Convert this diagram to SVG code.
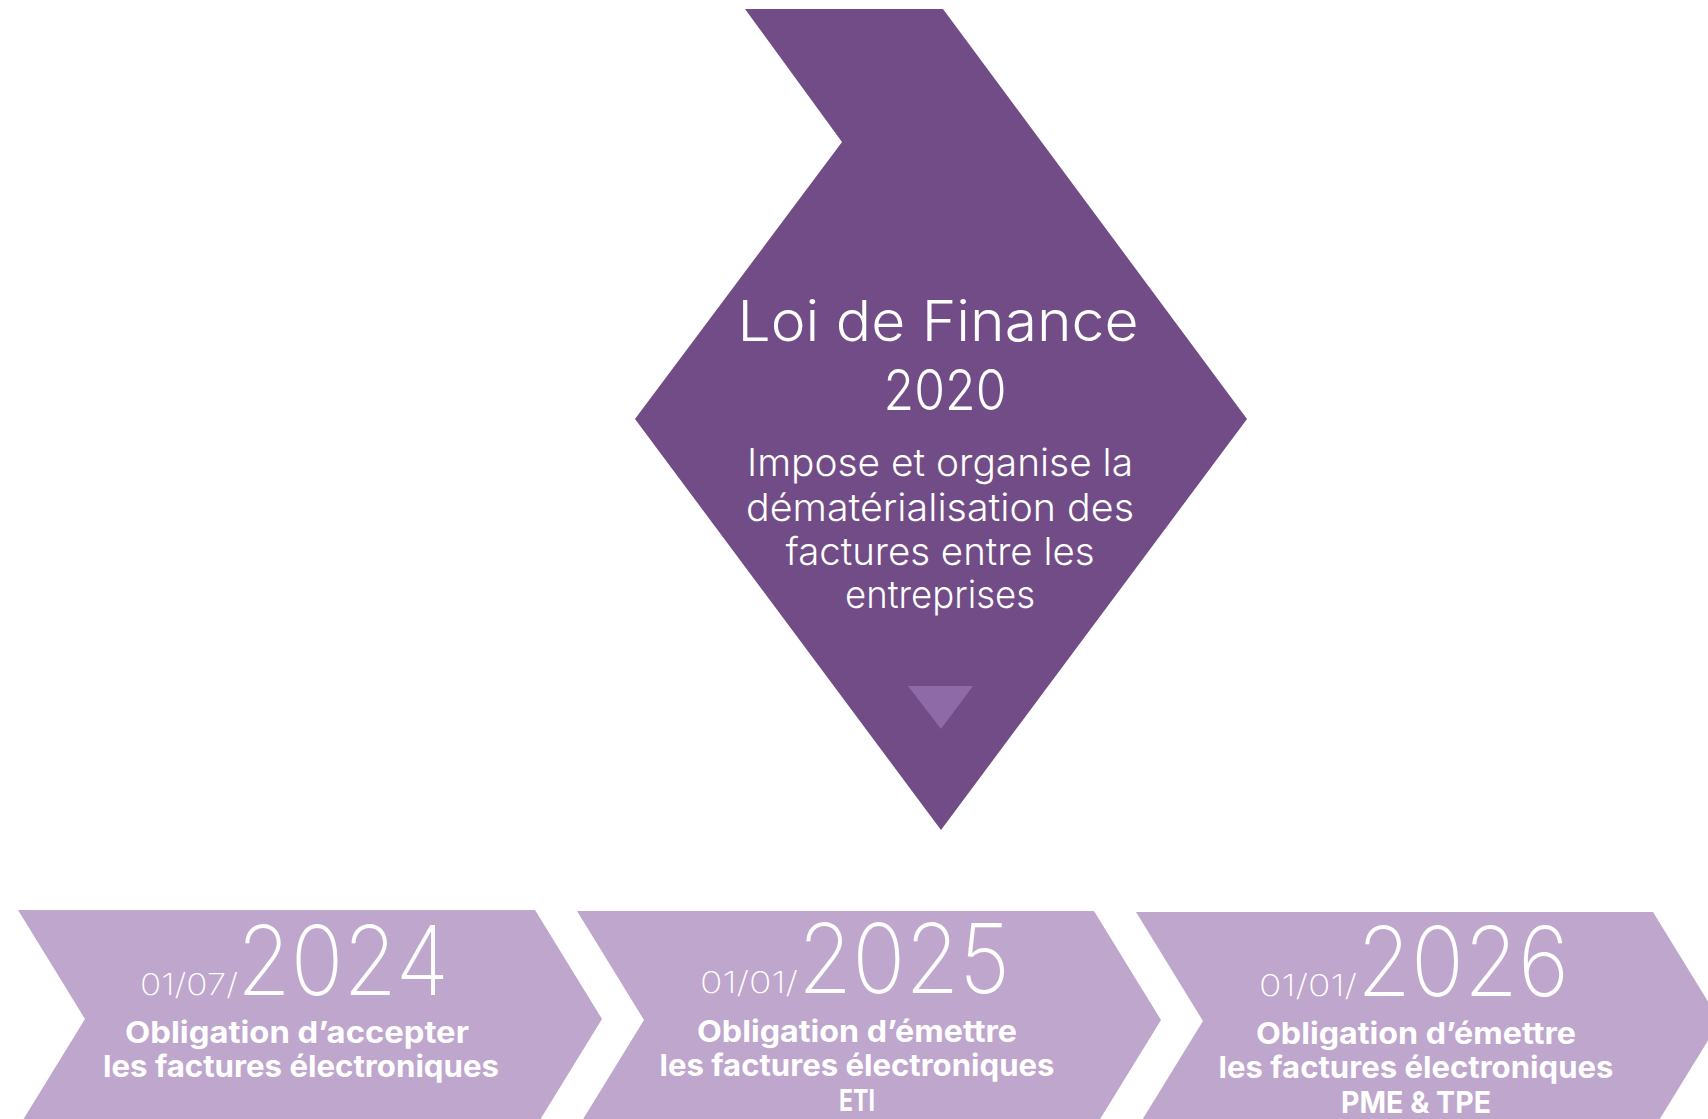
<svg xmlns="http://www.w3.org/2000/svg" width="1708" height="1119" viewBox="0 0 1708 1119">
<style>
.main{fill:#714C86}
.chev{fill:#BFA6CC}
.t{fill:#FFFFFF;font-family:Inter,"Liberation Sans",sans-serif}
.thin{font-weight:300}
.xthin{font-weight:250}
.bold{font-weight:700;text-anchor:middle}
.mid{text-anchor:middle}
</style>
<rect width="1708" height="1119" fill="#FFFFFF"/>
<g id="loi">
<polygon class="main" points="745,9 943,9 1247,419 941,830 635,419 842,142"/>
<polygon fill="#8E6AA6" points="908,686 973,686 941,729"/>
<text class="t thin mid" x="938" y="341" font-size="56" textLength="401" lengthAdjust="spacingAndGlyphs">Loi de Finance</text>
<text class="t thin mid" x="945" y="410" font-size="56" textLength="123" lengthAdjust="spacingAndGlyphs">2020</text>
<text class="t thin mid" x="940" y="476" font-size="38" textLength="386" lengthAdjust="spacingAndGlyphs">Impose et organise la</text>
<text class="t thin mid" x="940" y="521" font-size="38" textLength="388" lengthAdjust="spacingAndGlyphs">dématérialisation des</text>
<text class="t thin mid" x="940" y="565" font-size="38" textLength="309" lengthAdjust="spacingAndGlyphs">factures entre les</text>
<text class="t thin mid" x="940" y="608" font-size="38" textLength="190" lengthAdjust="spacingAndGlyphs">entreprises</text>
</g>
<g id="c2024">
<polygon class="chev" points="18,910 535,910 602,1019 535,1128 18,1128 85,1019"/>
<text class="t xthin" y="995"><tspan x="140" font-size="30" textLength="98" lengthAdjust="spacingAndGlyphs">01/07/</tspan><tspan x="237" font-size="96" textLength="212" lengthAdjust="spacingAndGlyphs">2024</tspan></text>
<text class="t bold" x="297" y="1043" font-size="30" textLength="344" lengthAdjust="spacingAndGlyphs">Obligation d’accepter</text>
<text class="t bold" x="301" y="1077" font-size="30" textLength="396" lengthAdjust="spacingAndGlyphs">les factures électroniques</text>
</g>
<g id="c2025">
<polygon class="chev" points="577,911 1094,911 1161,1020 1094,1129 577,1129 644,1020"/>
<text class="t xthin" y="993"><tspan x="700" font-size="30" textLength="98" lengthAdjust="spacingAndGlyphs">01/01/</tspan><tspan x="798" font-size="96" textLength="212" lengthAdjust="spacingAndGlyphs">2025</tspan></text>
<text class="t bold" x="857" y="1042" font-size="30" textLength="320" lengthAdjust="spacingAndGlyphs">Obligation d’émettre</text>
<text class="t bold" x="857" y="1076" font-size="30" textLength="395" lengthAdjust="spacingAndGlyphs">les factures électroniques</text>
<text class="t bold" x="857" y="1111" font-size="30" textLength="36" lengthAdjust="spacingAndGlyphs">ETI</text>
</g>
<g id="c2026">
<polygon class="chev" points="1136,912 1653,912 1720,1021 1653,1130 1136,1130 1203,1021"/>
<text class="t xthin" y="996"><tspan x="1259" font-size="30" textLength="98" lengthAdjust="spacingAndGlyphs">01/01/</tspan><tspan x="1357" font-size="96" textLength="212" lengthAdjust="spacingAndGlyphs">2026</tspan></text>
<text class="t bold" x="1416" y="1044" font-size="30" textLength="320" lengthAdjust="spacingAndGlyphs">Obligation d’émettre</text>
<text class="t bold" x="1416" y="1078" font-size="30" textLength="395" lengthAdjust="spacingAndGlyphs">les factures électroniques</text>
<text class="t bold" x="1416" y="1113" font-size="30" textLength="150" lengthAdjust="spacingAndGlyphs">PME &amp; TPE</text>
</g>
<g id="connectors"/>
</svg>
